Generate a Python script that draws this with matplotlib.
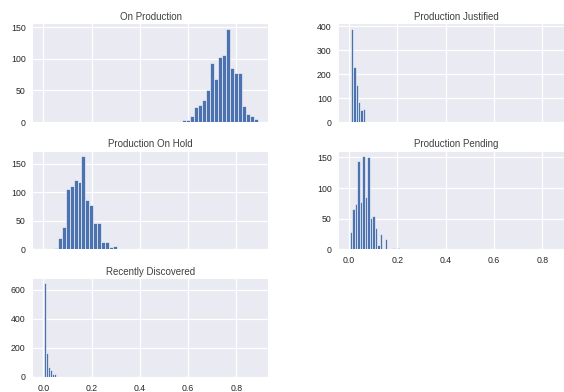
import numpy as np
import matplotlib
matplotlib.use("Agg")
import matplotlib.pyplot as plt

# histogram data: (first edge, last edge) and bar counts
titles = ["On Production", "Production Justified", "Production On Hold",
          "Production Pending", "Recently Discovered"]

on_production_range = (0.573, 0.888)
on_production_counts = [3, 3, 9, 24, 27, 35, 51, 94, 68, 103, 106, 147,
                        85, 77, 77, 26, 13, 9, 5]

justified_range = (0.008, 0.0935)
justified_counts = [389, 229, 156, 84, 51, 54, 2, 0, 2]

on_hold_range = (0.043, 0.307)
on_hold_counts = [3, 20, 39, 106, 111, 122, 118, 163, 86, 78, 47, 47,
                  13, 13, 4, 6]

pending_range = (0.003, 0.209)
pending_counts = [29, 66, 74, 145, 78, 152, 85, 150, 51, 55, 35, 8,
                  25, 1, 17, 0, 0, 2, 0, 2]

recent_range = (0.003, 0.0528)
recent_counts = [643, 163, 70, 47, 21, 19]

series = [
    (on_production_range, on_production_counts),
    (justified_range, justified_counts),
    (on_hold_range, on_hold_counts),
    (pending_range, pending_counts),
    (recent_range, recent_counts),
]

plt.rcParams.update({
    "font.family": ["Liberation Sans", "DejaVu Sans"],
    "axes.facecolor": "#EAEAF2",
    "axes.edgecolor": "white",
    "axes.linewidth": 0,
    "axes.grid": True,
    "axes.axisbelow": True,
    "grid.color": "white",
    "grid.linewidth": 0.9,
    "xtick.major.size": 0,
    "ytick.major.size": 0,
    "xtick.major.pad": 5,
    "ytick.major.pad": 5.5,
    "xtick.labelsize": 6.3,
    "ytick.labelsize": 6.3,
    "xtick.color": "#262626",
    "ytick.color": "#262626",
    "text.color": "#262626",
})

fig, axes = plt.subplots(
    3, 2, figsize=(5.64, 3.92), dpi=100, sharex=True,
    gridspec_kw=dict(left=0.059, right=1.018, top=0.938, bottom=0.039,
                     wspace=0.302, hspace=0.30))
flat = axes.ravel()

for ax, title, (rng, counts) in zip(flat, titles, series):
    edges = np.linspace(rng[0], rng[1], len(counts) + 1)
    ax.hist(edges[:-1], bins=edges, weights=counts, color="#4C72B0",
            edgecolor="white", linewidth=0.4)
    ax.set_title(title, fontsize=7, pad=3, color="#404040")
    for s in ax.spines.values():
        s.set_visible(False)

flat[5].remove()
axes[1, 1].xaxis.set_tick_params(labelbottom=True)

fig.savefig("out.png")
